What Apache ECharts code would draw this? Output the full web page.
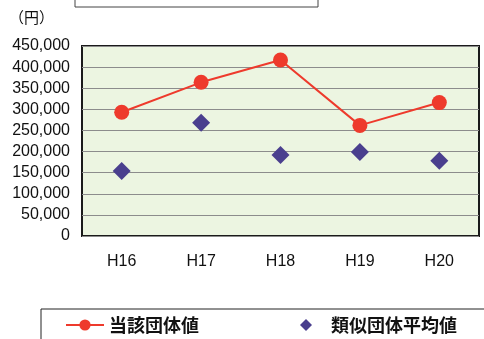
<!DOCTYPE html>
<html>
<head>
<meta charset="utf-8">
<script src="https://cdn.jsdelivr.net/npm/echarts@6/dist/echarts.min.js"></script>
<style>
  html, body { margin: 0; padding: 0; background: #fff; }
  #chart { width: 484px; height: 339px; }
</style>
</head>
<body>
<div id="chart"></div>
<script>
// data
var years = ['H16', 'H17', 'H18', 'H19', 'H20']
var ownValues = [293000, 364000, 417000, 262000, 316000]
var similarAvg = [154000, 268000, 192000, 199000, 178000]
var seriesNames = ['当該団体値', '類似団体平均値']

var font = '"Liberation Sans", "Noto Sans CJK JP", sans-serif'
var cjkFont = '"Noto Sans CJK JP", sans-serif'

var chart = echarts.init(document.getElementById('chart'))
chart.setOption({
  animation: false,
  textStyle: { fontFamily: font },
  grid: {
    left: 82,
    right: 5,
    top: 46,
    bottom: 103,
    show: true,
    backgroundColor: '#ecf5e1',
    borderColor: '#1a1a1a',
    borderWidth: 2
  },
  xAxis: {
    type: 'category',
    data: years,
    boundaryGap: true,
    axisLine: { show: false },
    axisTick: { show: false },
    axisLabel: { color: '#111', fontSize: 16, margin: 18, fontFamily: font }
  },
  yAxis: {
    type: 'value',
    min: 0,
    max: 450000,
    interval: 50000,
    axisLine: { show: false },
    axisTick: { show: false },
    axisLabel: {
      color: '#111',
      fontSize: 16,
      margin: 12,
      fontFamily: font,
      formatter: function (v) { return v.toLocaleString('en-US') }
    },
    splitLine: { lineStyle: { color: '#8c8c8c', width: 1 } }
  },
  legend: [
    {
      left: 60,
      top: 311,
      itemWidth: 38,
      itemHeight: 14,
      textStyle: { fontSize: 18, color: '#111', fontWeight: 'bold', fontFamily: cjkFont },
      data: [seriesNames[0]]
    },
    {
      left: 295,
      top: 311,
      itemWidth: 12,
      itemHeight: 12,
      itemGap: 0,
      textStyle: { fontSize: 18, color: '#111', fontWeight: 'bold', fontFamily: cjkFont, padding: [0, 0, 0, 14] },
      data: [{ name: seriesNames[1], icon: 'diamond' }]
    }
  ],
  graphic: [
    {
      type: 'rect',
      shape: { x: 75, y: -10, width: 243, height: 17 },
      style: { fill: '#fff', stroke: '#444', lineWidth: 1 }
    },
    {
      type: 'text',
      left: 9,
      top: 10,
      style: { text: '（円）', fill: '#111', font: '15px ' + cjkFont }
    },
    {
      type: 'rect',
      shape: { x: 41, y: 309, width: 460, height: 40 },
      style: { fill: 'none', stroke: '#222', lineWidth: 1 },
      z: -1
    }
  ],
  series: [
    {
      name: seriesNames[0],
      type: 'line',
      data: ownValues,
      symbol: 'circle',
      symbolSize: 15,
      itemStyle: { color: '#ee3a2c' },
      lineStyle: { color: '#ee3a2c', width: 2 }
    },
    {
      name: seriesNames[1],
      type: 'scatter',
      data: similarAvg,
      symbol: 'diamond',
      symbolSize: 18,
      itemStyle: { color: '#4a3f8e', opacity: 1 }
    }
  ]
})
</script>
</body>
</html>
